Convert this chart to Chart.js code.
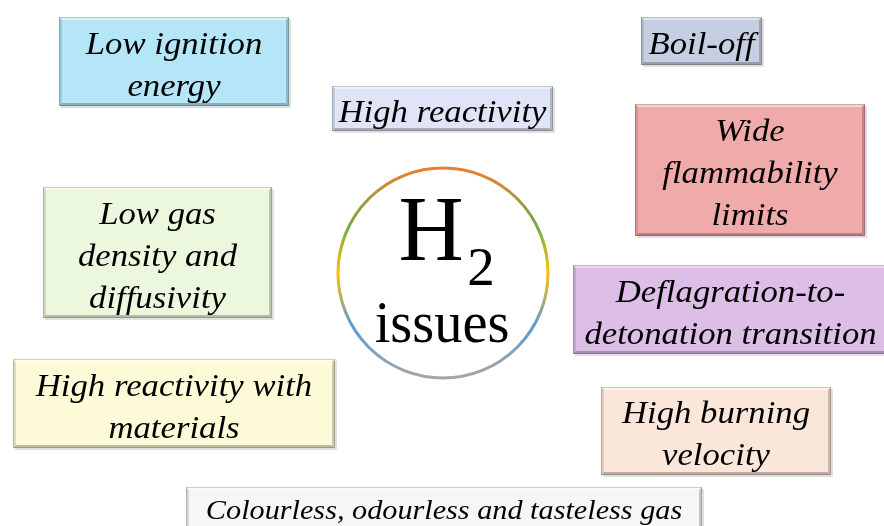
<!DOCTYPE html>
<html>
<head>
<meta charset="utf-8">
<script src="https://cdn.jsdelivr.net/npm/chart.js@4.4.0/dist/chart.umd.min.js"></script>
<style>
  html, body { margin: 0; padding: 0; background: #fff; }
  #wrap { width: 884px; height: 526px; position: relative; }
</style>
</head>
<body>
<div id="wrap"><canvas id="issuesChart"></canvas></div>
<script>
// Issues around the H2 circle (text lines of each box)
const issueLabels = [
    ['Low ignition', 'energy'],
    ['High reactivity'],
    ['Boil-off'],
    ['Wide', 'flammability', 'limits'],
    ['Low gas', 'density and', 'diffusivity'],
    ['Deflagration-to-', 'detonation transition'],
    ['High reactivity with', 'materials'],
    ['High burning', 'velocity'],
    ['Colourless, odourless and tasteless gas']
];
// box left / top / right / bottom in page units
const boxLeft   = [59, 332, 641, 635, 43, 573, 13, 601, 186];
const boxTop    = [17, 86, 17, 104, 187, 265, 359, 387, 487];
const boxRight  = [289, 553, 762, 865, 272, 896, 335, 831, 702];
const boxBottom = [106, 131, 65, 236, 318, 354, 448, 475, 540];
const boxColors = ['#b5e6f7', '#dfe5f7', '#c6cee1', '#f1aaaa', '#ebf8de',
                   '#dcbee7', '#fdfbd7', '#fbe7da', '#f6f6f6'];
const fontSizes = [31, 31, 31, 31, 31, 31, 31, 31, 27];

// centre circle
const hubX = [443];
const hubY = [273];
const hubR = 105;

const SERIF = '"Liberation Serif", "Times New Roman", Times, serif';

function shade(hex, amt) {
    const n = parseInt(hex.slice(1), 16);
    let r = (n >> 16) & 255, g = (n >> 8) & 255, b = n & 255;
    if (amt > 0) {
        r += (255 - r) * amt; g += (255 - g) * amt; b += (255 - b) * amt;
    } else {
        r *= 1 + amt; g *= 1 + amt; b *= 1 + amt;
    }
    return `rgb(${Math.round(r)},${Math.round(g)},${Math.round(b)})`;
}

// text stretched horizontally around its centre
function stretchText(ctx, s, cx, cy, sx) {
    ctx.save();
    ctx.translate(cx, cy);
    ctx.scale(sx, 1);
    ctx.fillText(s, 0, 0);
    ctx.restore();
}

const diagramPlugin = {
    id: 'diagram',
    afterDatasetsDraw(chart) {
        const { ctx, scales: { x, y } } = chart;
        ctx.save();

        // boxes
        issueLabels.forEach((lines, i) => {
            const l = x.getPixelForValue(boxLeft[i]);
            const r = x.getPixelForValue(boxRight[i]);
            const t = y.getPixelForValue(boxTop[i]);
            const b = y.getPixelForValue(boxBottom[i]);
            const w = r - l, h = b - t;
            const c = boxColors[i];
            const e = 3;

            // soft shadow
            ctx.fillStyle = 'rgba(0,0,0,0.12)';
            ctx.fillRect(l + 2, t + 2, w, h);

            ctx.fillStyle = c;
            ctx.fillRect(l, t, w, h);

            // bevel edges
            ctx.fillStyle = shade(c, 0.45);
            ctx.beginPath();
            ctx.moveTo(l, t); ctx.lineTo(r, t); ctx.lineTo(r - e, t + e); ctx.lineTo(l + e, t + e);
            ctx.closePath(); ctx.fill();
            ctx.fillStyle = shade(c, -0.12);
            ctx.beginPath();
            ctx.moveTo(l, t); ctx.lineTo(l + e, t + e); ctx.lineTo(l + e, b - e); ctx.lineTo(l, b);
            ctx.closePath(); ctx.fill();
            ctx.fillStyle = shade(c, -0.2);
            ctx.beginPath();
            ctx.moveTo(r, t); ctx.lineTo(r - e, t + e); ctx.lineTo(r - e, b - e); ctx.lineTo(r, b);
            ctx.closePath(); ctx.fill();
            ctx.fillStyle = shade(c, -0.25);
            ctx.beginPath();
            ctx.moveTo(l, b); ctx.lineTo(l + e, b - e); ctx.lineTo(r - e, b - e); ctx.lineTo(r, b);
            ctx.closePath(); ctx.fill();

            ctx.strokeStyle = 'rgba(0,0,0,0.18)';
            ctx.lineWidth = 1;
            ctx.strokeRect(l + 0.5, t + 0.5, w - 1, h - 1);

            // text
            ctx.fillStyle = '#000';
            ctx.font = 'italic ' + fontSizes[i] + 'px ' + SERIF;
            ctx.textAlign = 'center';
            ctx.textBaseline = 'middle';
            const lineH = 42;
            const visR = Math.min(r, chart.width);
            const cx = i === 5 ? (l + visR) / 2 + 2 : (l + r) / 2;
            const visB = Math.min(b, chart.height);
            const cy = (t + visB) / 2 - (lines.length - 1) * lineH / 2;
            lines.forEach((s, k) => stretchText(ctx, s, cx, cy + k * lineH + 5, 1.12));
        });

        // centre circle with gradient ring
        const hx = x.getPixelForValue(hubX[0]);
        const hy = y.getPixelForValue(hubY[0]);
        const grad = ctx.createLinearGradient(0, hy - hubR, 0, hy + hubR);
        grad.addColorStop(0, '#ed7d31');
        grad.addColorStop(0.28, '#70ad47');
        grad.addColorStop(0.5, '#ffc000');
        grad.addColorStop(0.75, '#5b9bd5');
        grad.addColorStop(1, '#a5a5a5');
        ctx.beginPath();
        ctx.arc(hx, hy, hubR, 0, Math.PI * 2);
        ctx.fillStyle = '#fff';
        ctx.fill();
        ctx.lineWidth = 3;
        ctx.strokeStyle = grad;
        ctx.stroke();

        ctx.fillStyle = '#000';
        ctx.textBaseline = 'alphabetic';
        ctx.textAlign = 'center';
        ctx.font = '94px ' + SERIF;
        stretchText(ctx, 'H', hx - 12, hy - 13, 0.96);
        ctx.font = '55px ' + SERIF;
        stretchText(ctx, '2', hx + 38, hy + 12, 1);
        ctx.font = '60px ' + SERIF;
        stretchText(ctx, 'issues', hx - 1, hy + 69, 0.94);

        ctx.restore();
    }
};

function draw() {
    new Chart(document.getElementById('issuesChart'), {
        type: 'scatter',
        data: {
            datasets: [{
                label: 'Issues',
                data: boxLeft.map((v, i) => ({ x: (v + boxRight[i]) / 2, y: (boxTop[i] + boxBottom[i]) / 2 })),
                pointRadius: 0
            }]
        },
        options: {
            responsive: true,
            maintainAspectRatio: false,
            animation: false,
            layout: { padding: 0 },
            plugins: {
                legend: { display: false },
                tooltip: { enabled: false }
            },
            scales: {
                x: { type: 'linear', min: 0, max: 884, display: false },
                y: { type: 'linear', min: 0, max: 526, reverse: true, display: false }
            }
        },
        plugins: [diagramPlugin]
    });
}

Promise.all([
    document.fonts.load('italic 31px "Liberation Serif"'),
    document.fonts.load('94px "Liberation Serif"')
]).then(draw, draw);
</script>
</body>
</html>
